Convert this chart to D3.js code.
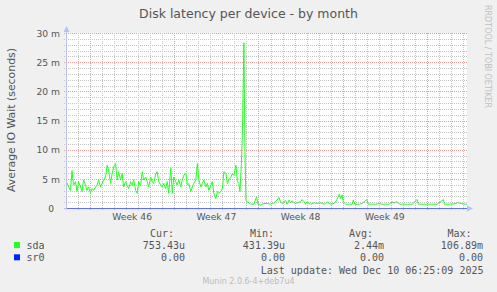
<!DOCTYPE html>
<html>
<head>
<meta charset="utf-8">
<script src="https://cdn.jsdelivr.net/npm/d3@7"></script>
<style>
  body { margin: 0; background: #f0f0f0; }
  svg { display: block; }
</style>
</head>
<body>
<svg id="chart" width="497" height="292"></svg>
<script>
// time axis: hours since startTime
const startTime = Date.UTC(2025, 10, 8, 2, 0);
const spanHours = 798;

// sda (ms)
const sdaHours = [0, 3, 7, 10, 13, 17, 20, 23, 27, 30, 33, 37, 40, 43, 47, 50, 53, 57, 60, 63,
  67, 70, 73, 77, 80, 83, 87, 90, 93, 97, 100, 103, 107, 110, 113, 117, 120, 123, 127, 130,
  133, 137, 140, 143, 147, 150, 153, 157, 160, 163, 167, 170, 173, 177, 180, 183, 187, 190, 193, 197,
  200, 203, 207, 210, 213, 217, 220, 223, 227, 230, 233, 237, 240, 243, 247, 250, 253, 257, 260, 263,
  267, 270, 273, 277, 280, 283, 287, 290, 293, 297, 300, 303, 307, 310, 313, 317, 320, 323, 327, 330,
  333, 337, 340, 343, 345, 348, 350, 353, 355, 357, 360, 363, 366, 373, 378, 381, 386, 393, 399, 406,
  413, 419, 423, 426, 429, 433, 436, 439, 443, 446, 449, 453, 456, 459, 466, 469, 473, 476, 479, 483,
  486, 493, 499, 506, 513, 519, 523, 526, 533, 538, 541, 543, 546, 549, 551, 556, 563, 569, 571, 574,
  583, 589, 598, 601, 609, 616, 623, 629, 636, 643, 649, 653, 658, 663, 669, 679, 689, 698, 701, 713,
  726, 739, 751, 753, 766, 776, 779, 786, 793, 798];
const sdaMs = [4.4, 3.7, 3.1, 6.5, 4.0, 4.6, 2.9, 4.6, 3.7, 2.9, 4.9, 4.0, 3.1, 3.7, 2.7, 3.4, 3.1, 3.7, 4.0, 4.9,
  3.7, 4.3, 4.9, 5.4, 7.4, 6.6, 4.3, 6.0, 7.1, 7.7, 4.9, 6.3, 4.9, 6.0, 3.7, 4.6, 4.0, 3.4, 4.6, 4.0,
  4.9, 3.1, 2.6, 4.6, 4.0, 6.3, 4.9, 5.4, 4.6, 3.7, 5.4, 4.6, 4.3, 6.0, 6.3, 4.6, 4.0, 3.7, 4.3, 3.4,
  4.6, 2.6, 6.9, 2.6, 5.4, 4.6, 4.0, 4.9, 3.7, 4.9, 5.7, 6.0, 4.0, 4.3, 2.9, 3.7, 4.3, 4.9, 7.7, 4.9,
  3.7, 4.3, 4.9, 3.7, 4.3, 3.1, 4.0, 4.6, 2.6, 1.7, 2.9, 2.6, 2.9, 3.4, 6.3, 6.0, 4.3, 4.9, 5.4, 6.0,
  5.7, 7.4, 4.6, 4.3, 2.9, 7.7, 13.4, 28.4, 10.0, 1.4, 1.1, 1.0, 0.74, 0.74, 2.0, 0.74, 0.57, 0.86, 0.86, 0.74,
  0.97, 1.43, 1.89, 1.14, 0.86, 1.14, 1.43, 0.74, 1.43, 0.97, 1.31, 0.97, 0.86, 0.97, 1.14, 1.54, 1.14, 0.74, 1.14, 0.86,
  0.74, 0.97, 0.86, 0.97, 0.74, 1.14, 0.86, 0.74, 0.86, 1.43, 2.0, 2.46, 1.71, 2.34, 1.14, 0.74, 0.74, 0.74, 1.43, 0.74,
  0.74, 0.86, 1.54, 0.74, 0.74, 0.74, 0.86, 0.74, 0.74, 0.74, 1.14, 0.97, 1.2, 0.74, 0.74, 0.74, 0.74, 1.54, 0.74, 0.74,
  0.74, 0.74, 1.54, 0.74, 0.74, 0.86, 1.03, 0.86, 0.74, 0.74];

// sr0 stays at zero
const sr0Hours = [0, 798];
const sr0Ms = [0, 0];

const yTicks = [0, 5, 10, 15, 20, 25, 30];
const weekStarts = ['2025-11-10', '2025-11-17', '2025-11-24', '2025-12-01'];

const legendNames = ['sda', 'sr0'];
const legendColors = ['#22ff22', '#0022ff'];
const legendCur = ['753.43u', '0.00'];
const legendMin = ['431.39u', '0.00'];
const legendAvg = ['2.44m', '0.00'];
const legendMax = ['106.89m', '0.00'];

const svg = d3.select('#chart');
const W = 497, H = 292;
const plotLeft = 67, plotRight = 467, plotTop = 33, plotBottom = 208;
const sans = 'DejaVu Sans, sans-serif';
const mono = 'DejaVu Sans Mono, monospace';
const fontColor = '#555';
const minorGrid = '#c6c6c6', majorGrid = '#f09a9a';

const hourToDate = h => new Date(startTime + h * 3600e3);

const x = d3.scaleUtc()
  .domain([hourToDate(0), hourToDate(spanHours)])
  .range([plotLeft, plotRight]);
const y = d3.scaleLinear()
  .domain([0, 30])
  .range([plotBottom + 0.5, plotTop + 0.5]);
const px = v => Math.round(v - 0.5) + 0.5;

svg.append('rect').attr('width', W).attr('height', H).attr('fill', '#f0f0f0');
svg.append('rect')
  .attr('x', plotLeft).attr('y', plotTop)
  .attr('width', plotRight - plotLeft).attr('height', plotBottom - plotTop + 1)
  .attr('fill', '#fff');

// grid
const grid = svg.append('g').attr('stroke-dasharray', '1,1').attr('stroke-width', 1);
grid.selectAll('line.hmin')
  .data(d3.range(0, 31).filter(v => v % 5 !== 0))
  .enter().append('line')
  .attr('x1', plotLeft - 3).attr('x2', plotRight)
  .attr('y1', d => px(y(d))).attr('y2', d => px(y(d)))
  .attr('stroke', minorGrid);
grid.selectAll('line.hmaj')
  .data(yTicks.filter(v => v > 0))
  .enter().append('line')
  .attr('x1', plotLeft - 3).attr('x2', plotRight)
  .attr('y1', d => px(y(d))).attr('y2', d => px(y(d)))
  .attr('stroke', majorGrid);

const days = d3.utcDay.range(x.domain()[0], x.domain()[1]);
grid.selectAll('line.v')
  .data(days)
  .enter().append('line')
  .attr('x1', d => Math.round(x(d)) + 0.5).attr('x2', d => Math.round(x(d)) + 0.5)
  .attr('y1', plotTop).attr('y2', plotBottom + 3)
  .attr('stroke', d => d.getUTCDay() === 1 ? majorGrid : minorGrid);

// axes
const axisColor = '#b8c0f4';
svg.append('line')
  .attr('x1', plotLeft - 0.5).attr('x2', plotLeft - 0.5)
  .attr('y1', plotBottom + 2).attr('y2', plotTop - 4)
  .attr('stroke', axisColor);
svg.append('path')
  .attr('d', `M${plotLeft - 3.5},${plotTop - 1} L${plotLeft + 2.5},${plotTop - 1} L${plotLeft - 0.5},${plotTop - 7} Z`)
  .attr('fill', axisColor);
svg.append('line')
  .attr('x1', plotLeft - 3).attr('x2', plotRight + 2)
  .attr('y1', plotBottom + 0.5).attr('y2', plotBottom + 0.5)
  .attr('stroke', axisColor);
svg.append('path')
  .attr('d', `M${plotRight},${plotBottom - 2.5} L${plotRight},${plotBottom + 3.5} L${plotRight + 6},${plotBottom + 0.5} Z`)
  .attr('fill', axisColor);

// y tick labels
svg.append('g').selectAll('text')
  .data(yTicks)
  .enter().append('text')
  .attr('x', plotLeft - 7)
  .attr('y', d => y(d))
  .attr('dy', '0.35em')
  .attr('text-anchor', 'end')
  .attr('font-family', sans).attr('font-size', 9.2).attr('fill', fontColor)
  .style('white-space', 'pre')
  .text(d => d === 0 ? '0\u00a0\u00a0' : d + ' m');

// week labels, centred in the week
const fmtWeek = d3.utcFormat('Week %V');
svg.append('g').selectAll('text')
  .data(weekStarts.map(s => new Date(s + 'T00:00:00Z')))
  .enter().append('text')
  .attr('x', d => x(d3.utcHour.offset(d, 84)))
  .attr('y', plotBottom + 12)
  .attr('text-anchor', 'middle')
  .attr('font-family', sans).attr('font-size', 9.2).attr('fill', fontColor)
  .text(d => fmtWeek(d));

// series
const line = d3.line()
  .x(d => x(hourToDate(d[0])))
  .y(d => y(d[1]));

svg.append('path')
  .datum(sr0Hours.map((h, i) => [h, sr0Ms[i]]))
  .attr('d', line)
  .attr('fill', 'none')
  .attr('stroke', legendColors[1])
  .attr('stroke-opacity', 0.5)
  .attr('stroke-width', 1);

svg.append('path')
  .datum(sdaHours.map((h, i) => [h, sdaMs[i]]))
  .attr('d', line)
  .attr('fill', 'none')
  .attr('stroke', legendColors[0])
  .attr('stroke-width', 1);

// titles
svg.append('text')
  .attr('x', W / 2).attr('y', 18)
  .attr('text-anchor', 'middle')
  .attr('font-family', sans).attr('font-size', 12.5).attr('fill', fontColor)
  .text('Disk latency per device - by month');

svg.append('text')
  .attr('transform', 'translate(15,120) rotate(-90)')
  .attr('text-anchor', 'middle')
  .attr('font-family', sans).attr('font-size', 10.9).attr('fill', fontColor)
  .text('Average IO Wait (seconds)');

svg.append('text')
  .attr('transform', 'translate(485,5) rotate(90)')
  .attr('font-family', sans).attr('font-size', 8).attr('fill', '#c0c0c0')
  .text('RRDTOOL / TOBI OETIKER');

// legend
const legend = svg.append('g')
  .attr('font-family', mono).attr('font-size', 10).attr('fill', fontColor)
  .style('white-space', 'pre');

[['Cur:', 150], ['Min:', 250], ['Avg:', 349], ['Max:', 447.5]].forEach(([t, lx]) => {
  legend.append('text').attr('x', lx).attr('y', 237).text(t);
});

const rows = legend.selectAll('g.row')
  .data(legendNames)
  .enter().append('g')
  .attr('transform', (d, i) => `translate(0,${249 + i * 12.3})`);

rows.append('rect')
  .attr('x', 14).attr('y', -7)
  .attr('width', 6).attr('height', 6)
  .attr('fill', (d, i) => legendColors[i]);
rows.append('text').attr('x', 26.5).text(d => d);

const colsEnd = [185, 285, 384, 483];
[legendCur, legendMin, legendAvg, legendMax].forEach((col, c) => {
  rows.append('text')
    .attr('x', colsEnd[c])
    .attr('text-anchor', 'end')
    .text((d, i) => col[i].endsWith('u') || col[i].endsWith('m') ? col[i] : col[i] + ' ');
});

legend.append('text')
  .attr('x', 483.5).attr('y', 273.5)
  .attr('text-anchor', 'end')
  .text('Last update: Wed Dec 10 06:25:09 2025');

svg.append('text')
  .attr('x', W / 2).attr('y', 284)
  .attr('text-anchor', 'middle')
  .attr('font-family', sans).attr('font-size', 8).attr('fill', '#bcbcbc')
  .text('Munin 2.0.6-4+deb7u4');
</script>
</body>
</html>
